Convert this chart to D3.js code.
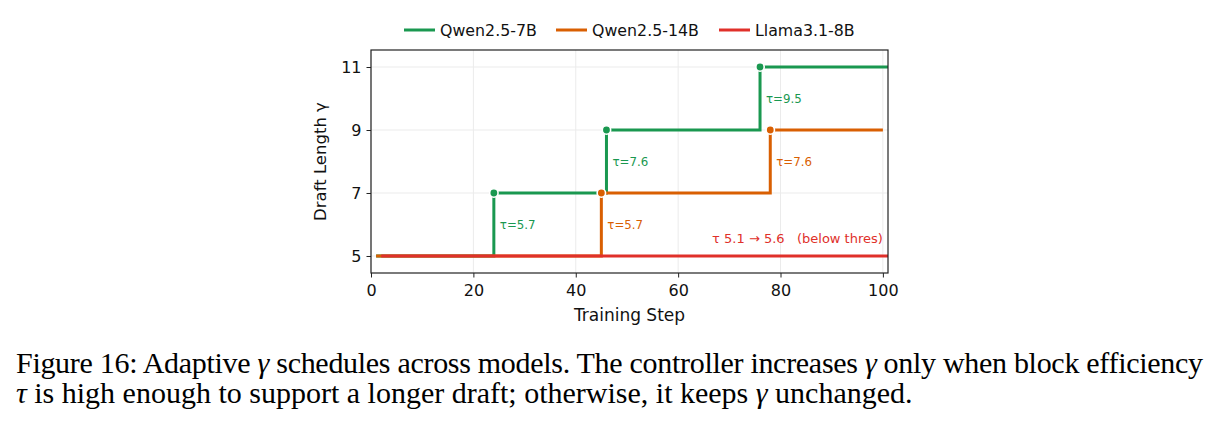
<!DOCTYPE html>
<html>
<head>
<meta charset="utf-8">
<script src="https://cdn.jsdelivr.net/npm/d3@7"></script>
<style>
  body { margin: 0; background: #fff; }
  svg { display: block; }
</style>
</head>
<body>
<div id="chart"></div>
<script>
// series data (step where gamma changes, gamma after it)
const seriesNames = ["Qwen2.5-7B", "Qwen2.5-14B", "Llama3.1-8B"];
const seriesColors = ["#1a9850", "#d95f02", "#e0302a"];

const qwen7bSteps = [1, 24, 46, 76, 101];
const qwen7bGamma = [5, 7, 9, 11, 11];
const qwen14bSteps = [1, 45, 78, 100];
const qwen14bGamma = [5, 7, 9, 9];
const llamaSteps = [2, 101];
const llamaGamma = [5, 5];

// switch points and the block efficiency that triggered them
const qwen7bSwitch = [24, 46, 76];
const qwen7bTau = ["5.7", "7.6", "9.5"];
const qwen14bSwitch = [45, 78];
const qwen14bTau = ["5.7", "7.6"];

const xTicks = [0, 20, 40, 60, 80, 100];
const yTicks = [5, 7, 9, 11];

const width = 1220, height = 428;
const margin = {top: 50, left: 371, right: 1220 - 888, bottom: 428 - 273};
const plotW = width - margin.left - margin.right,
    plotH = height - margin.top - margin.bottom;

const svg = d3.select("#chart")
    .append("svg")
    .attr("width", width)
    .attr("height", height)
    .style("font-family", "'DejaVu Sans', sans-serif");

const g = svg.append("g")
    .attr("transform", "translate(" + margin.left + "," + margin.top + ")");

const x = d3.scaleLinear().domain([0, 101]).range([0, plotW]);
const y = d3.scaleLinear().domain([4.46, 11.54]).range([plotH, 0]);

// grid
g.append("g").selectAll("line")
    .data(xTicks)
    .enter().append("line")
    .attr("x1", d => x(d)).attr("x2", d => x(d))
    .attr("y1", 0).attr("y2", plotH)
    .attr("stroke", "#ebebeb").attr("stroke-width", 1);
g.append("g").selectAll("line")
    .data(yTicks)
    .enter().append("line")
    .attr("x1", 0).attr("x2", plotW)
    .attr("y1", d => y(d)).attr("y2", d => y(d))
    .attr("stroke", "#ebebeb").attr("stroke-width", 1);

// lines
const stepLine = d3.line()
    .x(d => x(d[0]))
    .y(d => y(d[1]))
    .curve(d3.curveStepAfter);

const lineData = [
    d3.zip(qwen7bSteps, qwen7bGamma),
    d3.zip(qwen14bSteps, qwen14bGamma),
    d3.zip(llamaSteps, llamaGamma)
];

svg.append("defs").append("clipPath").attr("id", "plotclip")
    .append("rect").attr("width", plotW).attr("height", plotH);

lineData.forEach(function (pts, i) {
    g.append("path")
        .attr("d", stepLine(pts))
        .attr("fill", "none")
        .attr("stroke", seriesColors[i])
        .attr("stroke-width", 3)
        .attr("clip-path", "url(#plotclip)");
});

// markers at switch points (on top of lines)
function gammaAt(steps, gammas, s) {
    let v = gammas[0];
    for (let i = 0; i < steps.length; i++) {
        if (steps[i] <= s) v = gammas[i];
    }
    return v;
}

const markerData = [];
qwen7bSwitch.forEach((s, i) => markerData.push({s: s, gam: gammaAt(qwen7bSteps, qwen7bGamma, s), tau: qwen7bTau[i], c: seriesColors[0]}));
qwen14bSwitch.forEach((s, i) => markerData.push({s: s, gam: gammaAt(qwen14bSteps, qwen14bGamma, s), tau: qwen14bTau[i], c: seriesColors[1]}));

g.selectAll("circle.mk")
    .data(markerData)
    .enter().append("circle")
    .attr("class", "mk")
    .attr("cx", d => x(d.s))
    .attr("cy", d => y(d.gam))
    .attr("r", 4.2)
    .attr("fill", d => d.c)
    .attr("stroke", "#fff")
    .attr("stroke-width", 1.6);

// tau annotations, halfway up each jump
g.selectAll("text.tau")
    .data(markerData)
    .enter().append("text")
    .attr("class", "tau")
    .attr("x", d => x(d.s) + 6)
    .attr("y", d => y(d.gam - 1))
    .attr("dy", "0.35em")
    .attr("fill", d => d.c)
    .style("font-size", "11.8px")
    .text(d => "τ=" + d.tau);

g.append("text")
    .attr("x", x(100))
    .attr("y", y(5.56))
    .attr("dy", "0.35em")
    .attr("text-anchor", "end")
    .attr("fill", seriesColors[2])
    .style("font-size", "13px")
    .style("white-space", "pre")
    .attr("xml:space", "preserve")
    .text("τ 5.1 \u2192 5.6   (below thres)");

// axes
const xAxis = g.append("g")
    .attr("transform", "translate(0," + plotH + ")")
    .call(d3.axisBottom(x).tickValues(xTicks).tickSize(4.5).tickPadding(7));
const yAxis = g.append("g")
    .call(d3.axisLeft(y).tickValues(yTicks).tickSize(4.5).tickPadding(5));

[xAxis, yAxis].forEach(function (a) {
    a.select(".domain").remove();
    a.selectAll("line").attr("stroke", "#222").attr("stroke-width", 1);
    a.selectAll("text").style("font-size", "16px").style("font-family", "'DejaVu Sans', sans-serif").attr("fill", "#111");
});

// frame
g.append("rect")
    .attr("width", plotW).attr("height", plotH)
    .attr("fill", "none").attr("stroke", "#222").attr("stroke-width", 1.2);

// axis labels
g.append("text")
    .attr("x", plotW / 2)
    .attr("y", plotH + 48)
    .attr("text-anchor", "middle")
    .style("font-size", "17px")
    .attr("fill", "#111")
    .text("Training Step");

g.append("text")
    .attr("transform", "translate(-45," + (plotH / 2) + ") rotate(-90)")
    .attr("text-anchor", "middle")
    .style("font-size", "16.5px")
    .attr("fill", "#111")
    .text("Draft Length γ");

// legend
const legendX = [404, 556, 719];
const legend = svg.append("g");
seriesNames.forEach(function (name, i) {
    legend.append("line")
        .attr("x1", legendX[i]).attr("x2", legendX[i] + 31)
        .attr("y1", 30).attr("y2", 30)
        .attr("stroke", seriesColors[i]).attr("stroke-width", 3);
    legend.append("text")
        .attr("x", legendX[i] + 36)
        .attr("y", 30)
        .attr("dy", "0.35em")
        .style("font-size", "15.8px")
        .attr("fill", "#111")
        .text(name);
});

// caption (first line justified to the full width like LaTeX)
const caption = svg.append("g")
    .style("font-family", "'Liberation Serif', 'Times New Roman', serif")
    .style("font-size", "30px")
    .attr("fill", "#000");

const cap1 = caption.append("text").attr("x", 16).attr("y", 373)
    .attr("textLength", 1187).attr("lengthAdjust", "spacing");
cap1.append("tspan").text("Figure 16: Adaptive ");
cap1.append("tspan").style("font-style", "italic").text("γ");
cap1.append("tspan").text(" schedules across models. The controller increases ");
cap1.append("tspan").style("font-style", "italic").text("γ");
cap1.append("tspan").text(" only when block efficiency");

const cap2 = caption.append("text").attr("x", 16).attr("y", 403);
cap2.append("tspan").style("font-style", "italic").text("τ");
cap2.append("tspan").text(" is high enough to support a longer draft; otherwise, it keeps ");
cap2.append("tspan").style("font-style", "italic").text("γ");
cap2.append("tspan").text(" unchanged.");
</script>
</body>
</html>
